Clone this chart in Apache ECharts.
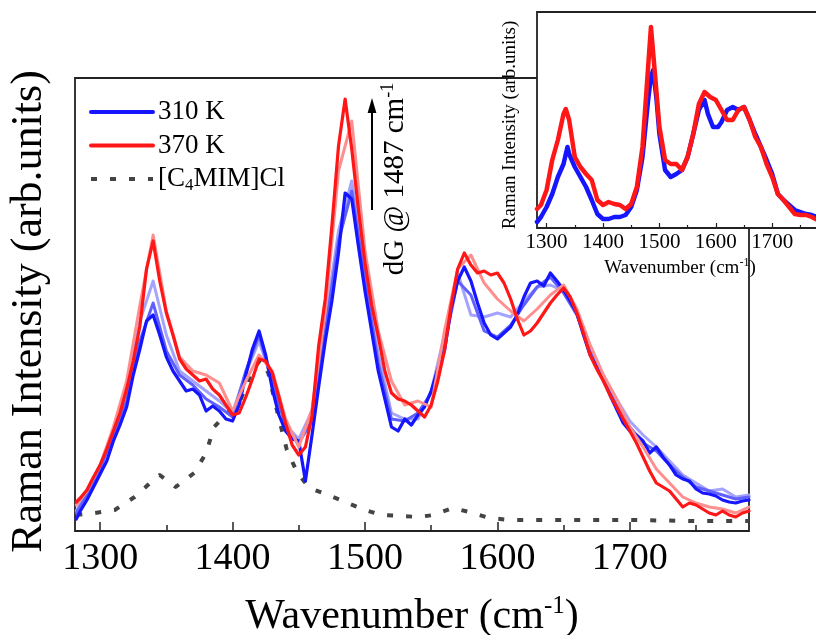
<!DOCTYPE html>
<html>
<head>
<meta charset="utf-8">
<script src="https://cdn.jsdelivr.net/npm/echarts@6/dist/echarts.min.js"></script>
<style>
  html, body { margin: 0; padding: 0; background: #fff; }
  #chart { width: 816px; height: 635px; }
</style>
</head>
<body>
<div id="chart"></div>
<script>
// Raman spectra, D-G band region, temperature series 310 K -> 370 K
// Intensities are in arbitrary units.

// ---- main panel: sampling grid (cm^-1) ----
const wnFine = [1282,1285,1290,1295,1300,1305,1310,1315,1320,1325,
  1330,1335,1340,1345,1350,1355,1360,1365,1370,1375,
  1380,1385,1390,1395,1400,1405,1410,1415,1420,1425,
  1430,1435,1440,1445,1450,1455,1460,1465,1470,1475,
  1480,1485,1490,1495,1500,1505,1510,1515,1520,1525,
  1530,1535,1540,1545,1550,1555,1560,1565,1570,1575,
  1580,1585,1590,1595,1600,1605,1610,1615,1620,1625,
  1630,1635,1640,1645,1650,1655,1660,1665,1670,1675,
  1680,1685,1690,1695,1700,1705,1710,1715,1720,1725,
  1730,1735,1740,1745,1750,1755,1760,1765,1770,1775,
  1780,1785,1790];

const int310 = [12,20,31,44,57,70,90,106,124,156,
  182,210,216,196,174,160,150,140,142,136,
  120,125,120,112,110,126,156,182,200,176,
  142,116,100,92,90,50,96,144,190,230,
  278,338,332,285,240,200,160,132,104,100,
  112,106,116,124,140,162,180,222,250,264,
  250,228,208,196,192,198,204,216,234,248,
  250,245,258,250,241,230,218,196,176,164,
  152,136,122,108,100,96,90,78,84,74,
  66,56,52,50,42,38,37,35,31,29,
  28,30,31];

const int370 = [29,33,41,54,66,82,100,118,142,170,
  205,262,290,250,218,196,172,162,156,150,
  152,142,136,126,116,118,134,152,172,170,
  158,134,108,86,76,84,115,185,232,305,
  385,432,382,322,268,226,195,160,138,132,
  130,126,120,114,126,150,180,225,262,278,
  266,258,260,256,258,248,232,212,196,200,
  208,218,228,236,243,234,218,198,176,162,
  150,136,124,112,100,88,74,60,48,44,
  40,32,24,28,26,22,18,16,20,16,
  14,18,20];

// intermediate temperatures (coarser sampling)
const wnCoarse = [1282,1290,1300,1310,1320,1330,1340,1350,1360,1370,
  1380,1390,1400,1410,1420,1430,1440,1450,1460,1470,
  1480,1490,1500,1510,1520,1530,1540,1550,1560,1570,
  1580,1590,1600,1610,1620,1630,1640,1650,1660,1670,
  1680,1690,1700,1710,1720,1730,1740,1750,1760,1770,
  1780,1790];

const intScan2 = [18,36,62,96,130,190,228,180,156,146,
  132,124,114,160,196,150,106,88,110,200,
  290,340,250,168,112,110,118,138,186,250,
  236,200,194,206,226,244,254,238,216,180,
  150,126,104,88,80,66,54,44,40,36,
  32,34];

const intScan3 = [20,40,66,100,140,210,250,196,160,150,
  140,130,118,158,190,150,106,92,120,210,
  300,350,262,178,118,112,112,140,196,258,
  216,214,218,214,230,244,246,240,220,186,
  156,132,110,96,84,70,56,48,40,42,
  34,36];

const intScan4 = [26,40,66,104,150,226,296,220,174,160,
  156,148,120,150,176,160,112,84,122,220,
  360,410,280,200,150,126,130,124,200,262,
  276,248,232,220,210,222,236,246,222,186,
  156,132,104,84,62,48,34,28,24,22,
  18,24];

// reference spectrum of the ionic liquid
const wnIL = [1282,1296,1311,1326,1336,1345,1357,1371,1380,1386,
  1396,1406,1415,1421,1427,1434,1441,1449,1458,1472,
  1487,1500,1512,1528,1540,1552,1566,1579,1594,1610,
  1650,1700,1750,1790];
const intIL = [16,18,21,34,46,56,44,58,78,104,
  118,131,161,171,158,118,81,58,43,36,
  28,21,16,15,14,16,23,19,13,11,
  11,11,10,10];

// ---- inset: 310 K vs 370 K ----
const wnInset370 = [1283,1290,1300,1310,1320,1330,1334,1340,1350,1360,
  1370,1380,1390,1400,1410,1420,1430,1440,1450,1460,
  1470,1480,1485,1490,1500,1510,1520,1530,1540,1550,
  1560,1570,1580,1590,1600,1610,1620,1630,1640,1650,
  1660,1670,1680,1690,1700,1710,1720,1730,1740,1750,
  1760,1770,1780,1790];
const inset370 = [19,23,38,68,88,114,119,108,71,61,
  54,48,28,23,26,24,23,19,24,41,
  81,161,201,168,101,68,64,64,58,71,
  94,124,136,131,128,118,108,108,118,121,
  108,91,81,64,51,34,28,21,14,13,
  13,11,8,8];

const wnInset310 = [1283,1290,1300,1310,1320,1330,1337,1340,1350,1360,
  1370,1380,1390,1400,1410,1420,1430,1440,1450,1460,
  1470,1480,1485,1489,1495,1500,1510,1520,1530,1540,
  1550,1560,1570,1580,1586,1595,1604,1610,1620,1630,
  1640,1650,1660,1670,1680,1690,1700,1710,1720,1730,
  1740,1750,1760,1770,1780,1790];
const inset310 = [6,11,21,34,51,64,81,74,61,51,
  41,28,14,9,9,11,11,13,21,38,
  71,128,151,158,128,94,58,51,54,58,
  71,94,118,128,114,101,101,106,118,121,
  118,121,108,94,81,68,54,34,28,23,
  18,16,14,13,11,10];

// tick positions
const majorTicks = [1300, 1400, 1500, 1600, 1700];
const minorTicks = [1350, 1450, 1550, 1650, 1750];

const FONT = '"Liberation Serif", "Times New Roman", serif';
const INK = '#222';

const pairs = (xs, ys) => xs.map((x, i) => [x, ys[i]]);
const plainNumber = v => String(v);

function spectrum(name, xs, ys, color, width, axisIdx, z, dash) {
  return {
    name: name,
    type: 'line',
    xAxisIndex: axisIdx,
    yAxisIndex: axisIdx === 0 ? 0 : 1,
    data: pairs(xs, ys),
    showSymbol: false,
    symbol: 'none',
    silent: true,
    z: z,
    lineStyle: { color: color, width: width, type: dash || 'solid', join: 'round', cap: dash ? 'butt' : 'round' },
    itemStyle: { color: color },
    emphasis: { disabled: true }
  };
}

const chart = echarts.init(document.getElementById('chart'), null, { renderer: 'canvas' });

const option = {
  animation: false,
  backgroundColor: '#fff',
  grid: [
    { left: 75, top: 78, width: 674, height: 453, outerBoundsMode: 'none', containLabel: false,
      show: true, borderColor: INK, borderWidth: 1.8, backgroundColor: 'transparent' },
    { left: 537, top: 12, width: 286, height: 216, outerBoundsMode: 'none', containLabel: false,
      show: true, borderColor: INK, borderWidth: 1.8, backgroundColor: '#fff', z: 5 }
  ],
  xAxis: [
    {
      gridIndex: 0, type: 'value', min: 1281, max: 1790, position: 'bottom',
      axisLine: { show: false }, splitLine: { show: false },
      axisTick: { inside: true, length: 9, customValues: majorTicks, lineStyle: { color: INK, width: 1.5 } },
      axisLabel: { customValues: majorTicks, formatter: plainNumber, fontFamily: FONT, fontSize: 38, color: '#000', margin: 9 },
      name: '{a|Wavenumber (cm}{s|-1}{a|)}', nameLocation: 'middle', nameGap: 63,
      nameTextStyle: {
        rich: {
          a: { fontFamily: FONT, fontSize: 42, color: '#000', lineHeight: 46 },
          s: { fontFamily: FONT, fontSize: 25, color: '#000', verticalAlign: 'top', lineHeight: 46 }
        }
      }
    },
    {
      gridIndex: 0, type: 'value', min: 1281, max: 1790, position: 'bottom',
      axisLine: { show: false }, splitLine: { show: false }, axisLabel: { show: false },
      axisTick: { inside: true, length: 6, customValues: minorTicks, lineStyle: { color: INK, width: 1.5 } }
    },
    {
      gridIndex: 1, type: 'value', min: 1283, max: 1790, position: 'bottom', z: 6,
      axisLine: { show: false }, splitLine: { show: false },
      axisTick: { inside: true, length: 5, customValues: majorTicks, lineStyle: { color: INK, width: 1.2 } },
      axisLabel: { customValues: majorTicks, formatter: plainNumber, fontFamily: FONT, fontSize: 21, color: '#000', margin: 3.5 },
      name: '{a|Wavenumber (cm}{s|-1}{a|)}', nameLocation: 'middle', nameGap: 29,
      nameTextStyle: {
        rich: {
          a: { fontFamily: FONT, fontSize: 19, color: '#000', lineHeight: 22 },
          s: { fontFamily: FONT, fontSize: 12, color: '#000', verticalAlign: 'top', lineHeight: 22 }
        }
      }
    },
    {
      gridIndex: 1, type: 'value', min: 1283, max: 1790, position: 'bottom', z: 6,
      axisLine: { show: false }, splitLine: { show: false }, axisLabel: { show: false },
      axisTick: { inside: true, length: 3, customValues: minorTicks, lineStyle: { color: INK, width: 1.2 } }
    }
  ],
  yAxis: [
    {
      gridIndex: 0, type: 'value', min: 0, max: 453,
      axisLine: { show: false }, axisTick: { show: false }, axisLabel: { show: false }, splitLine: { show: false },
      name: 'Raman Intensity (arb.units)', nameLocation: 'middle', nameGap: 24,
      nameTextStyle: { fontFamily: FONT, fontSize: 44, color: '#000', padding: [0, 14, 0, 0] }
    },
    {
      gridIndex: 1, type: 'value', min: 0, max: 216, z: 6,
      axisLine: { show: false }, axisTick: { show: false }, axisLabel: { show: false }, splitLine: { show: false },
      name: 'Raman Intensity (arb.units)', nameLocation: 'middle', nameGap: 17,
      nameTextStyle: { fontFamily: FONT, fontSize: 19, color: '#000', padding: [0, 10, 0, 0] }
    }
  ],
  legend: {
    data: ['310 K', '370 K', '[C4MIM]Cl'],
    orient: 'vertical', left: 89, top: 97, padding: 0,
    itemWidth: 62, itemHeight: 14, itemGap: 3.5,
    selectedMode: false,
    itemStyle: { opacity: 0 },
    lineStyle: { width: 4 },
    textStyle: {
      fontFamily: FONT, fontSize: 27, color: '#000', lineHeight: 30,
      rich: { sub: { fontFamily: FONT, fontSize: 17, color: '#000', verticalAlign: 'bottom', lineHeight: 30 } }
    },
    formatter: function (n) { return n === '[C4MIM]Cl' ? '[C{sub|4}MIM]Cl' : n; }
  },
  series: [
    spectrum('[C4MIM]Cl', wnIL, intIL, '#444444', 4, 0, 2, [6, 13]),
    spectrum('scan 3', wnCoarse, intScan3, '#a4a4ff', 3, 0, 3),
    spectrum('scan 2', wnCoarse, intScan2, '#6060ff', 3, 0, 3),
    spectrum('310 K', wnFine, int310, '#1515ff', 3.2, 0, 3),
    spectrum('scan 4', wnCoarse, intScan4, '#ff8e8e', 3, 0, 3),
    spectrum('370 K', wnFine, int370, '#ff1717', 3.2, 0, 4),
    spectrum('inset 310 K', wnInset310, inset310, '#1515ff', 4.5, 2, 7),
    spectrum('inset 370 K', wnInset370, inset370, '#ff1717', 4.5, 2, 8)
  ],
  graphic: [
    { type: 'line', z: 10, shape: { x1: 372, y1: 210, x2: 372, y2: 110 }, style: { stroke: '#000', lineWidth: 2 } },
    { type: 'polygon', z: 10, shape: { points: [[372, 98], [367.6, 113], [376.4, 113]] }, style: { fill: '#000' } },
    {
      type: 'text', z: 10, x: 395, y: 179, rotation: Math.PI / 2,
      style: {
        text: '{a|dG @ 1487 cm}{s|-1}',
        align: 'center', verticalAlign: 'middle',
        rich: {
          a: { fontFamily: FONT, fontSize: 29, fill: '#000', color: '#000', lineHeight: 32 },
          s: { fontFamily: FONT, fontSize: 18, fill: '#000', color: '#000', verticalAlign: 'top', lineHeight: 32 }
        }
      }
    }
  ]
};

chart.setOption(option);
</script>
</body>
</html>
